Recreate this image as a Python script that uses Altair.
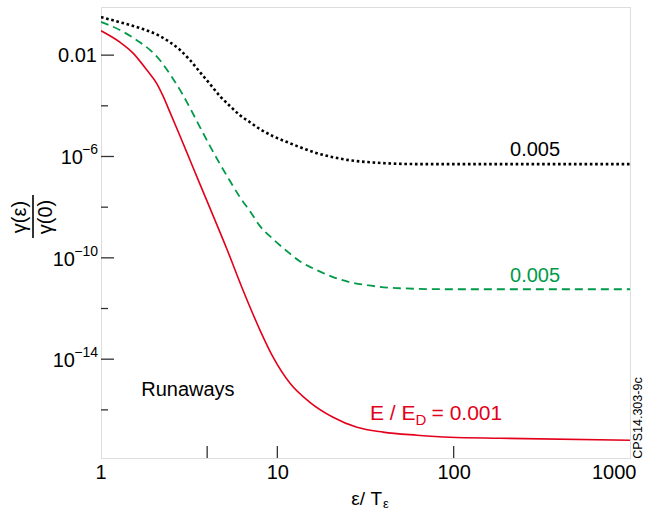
import altair as alt
import pandas as pd

# ---- data (x = eps/T_eps, y given as log10 of gamma ratio) ----
black_x = [1, 1.28, 1.66, 2.16, 2.46, 2.81, 3.20, 3.64, 4.15, 4.73, 5.39, 6.14, 7.0, 7.98,
           9.46, 11.35, 13.4, 16.8, 20.7, 25.8, 32.3, 39.8, 62, 183, 1000]
black_exp = [-0.50, -0.70, -0.93, -1.25, -1.49, -1.80, -2.20, -2.67, -3.14, -3.62, -4.01, -4.37,
             -4.65, -4.92, -5.20, -5.43, -5.63, -5.87, -6.03, -6.15, -6.22, -6.26, -6.30, -6.30, -6.30]

green_x = [1, 1.28, 1.66, 1.90, 2.16, 2.46, 2.81, 3.20, 3.64, 4.15, 4.73, 5.39, 6.14, 7.0,
           7.98, 9.46, 11.35, 13.4, 16.8, 20.7, 25.8, 32.3, 49.6, 95, 1000]
green_exp = [-0.69, -1.01, -1.49, -1.80, -2.20, -2.75, -3.38, -4.09, -4.84, -5.59, -6.30, -6.97,
             -7.61, -8.16, -8.75, -9.26, -9.74, -10.13, -10.49, -10.76, -10.96, -11.08, -11.20,
             -11.24, -11.24]

red_x = [1, 1.28, 1.52, 1.82, 2.08, 2.25, 2.46, 2.81, 3.20, 3.64, 4.15, 5.18, 6.39, 7.98,
         9.46, 11.8, 15.3, 20.7, 28.3, 39.8, 62, 95, 183, 1000]
red_exp = [-1.04, -1.49, -1.92, -2.59, -3.14, -3.62, -4.25, -5.20, -6.15, -7.09, -8.04, -9.66,
           -11.28, -12.86, -13.92, -14.95, -15.70, -16.29, -16.69, -16.88, -17.00, -17.08, -17.12, -17.20]

x_label_values = [1, 10, 100, 1000]
x_minor_ticks = [4]
y_label_values = [1e-2, 1e-6, 1e-10, 1e-14]
y_minor_ticks = [1e-4, 1e-8, 1e-12, 1e-16]
y_plain_label = ["0.01"]
y_pow_short = [1e-6]
y_pow_short_sup = ["\u22126"]
y_pow_long = [1e-10, 1e-14]
y_pow_long_sup = ["\u221210", "\u221214"]

W, H = 529, 451
FONT = "Liberation Sans"
RED = "#e3001b"
GREEN = "#009a48"


def frame(xs, es):
    return pd.DataFrame({"x": xs, "y": [10 ** e for e in es]})


xscale = alt.Scale(type="log", domain=[1, 1000], nice=False)
yscale = alt.Scale(type="log", domain=[10 ** -17.9, 10 ** -0.1], nice=False)

xaxis = alt.Axis(values=x_label_values, ticks=False, domain=False, grid=False, title=None,
                 labelFontSize=20, labelFont=FONT, labelColor="black", labelPadding=4,
                 labelFlush=True, labelFlushOffset=6, labelOverlap=False,
                 labelExpr="'' + round(datum.value)")
yaxis = alt.Axis(values=y_label_values, ticks=False, domain=False, grid=False, title=None,
                 labels=False)

X = alt.X("x:Q", scale=xscale, axis=xaxis)
Y = alt.Y("y:Q", scale=yscale, axis=yaxis)

black = alt.Chart(frame(black_x, black_exp)).mark_line(
    color="black", strokeDash=[2.6, 2.7], strokeWidth=2.6, interpolate="monotone", clip=True
).encode(x=X, y=Y)
green = alt.Chart(frame(green_x, green_exp)).mark_line(
    color=GREEN, strokeDash=[8, 5], strokeWidth=1.8, interpolate="monotone", clip=True
).encode(x=X, y=Y)
red = alt.Chart(frame(red_x, red_exp)).mark_line(
    color=RED, strokeWidth=1.6, interpolate="monotone", clip=True
).encode(x=X, y=Y)

# inward ticks
ymaj = alt.Chart(pd.DataFrame({"y": y_label_values})).mark_rule(color="#333", strokeWidth=1.3).encode(
    y=Y, x=alt.value(0), x2=alt.value(13))
ymin = alt.Chart(pd.DataFrame({"y": y_minor_ticks})).mark_rule(color="#333", strokeWidth=1.3).encode(
    y=Y, x=alt.value(0), x2=alt.value(7))
xt = alt.Chart(pd.DataFrame({"x": x_minor_ticks + x_label_values[1:3]})).mark_rule(color="#333", strokeWidth=1.3).encode(
    x=X, y=alt.value(H), y2=alt.value(H - 12))


# y tick labels with real superscripts
def ylab(values, texts, xpos, size, dy, align="right"):
    return alt.Chart(pd.DataFrame({"y": values, "t": texts})).mark_text(
        font=FONT, fontSize=size, color="black", align=align, baseline="middle", dy=dy
    ).encode(y=Y, x=alt.value(xpos), text="t:N")


yl_plain = ylab(y_label_values[:1], y_plain_label, -4, 20, 1)
yl_ten_s = ylab(y_pow_short, ["10"], -18, 20, 2)
yl_sup_s = ylab(y_pow_short, y_pow_short_sup, -3, 14, -6)
yl_ten_l = ylab(y_pow_long, ["10"] * len(y_pow_long), -26, 20, 2)
yl_sup_l = ylab(y_pow_long, y_pow_long_sup, -3, 14, -6)

one = pd.DataFrame({"a": [0]})


def label(text, x, y, color="black", size=20, align="center", baseline="middle", dx=0, dy=0):
    return alt.Chart(pd.DataFrame({"x": [x], "y": [y]})).mark_text(
        text=text, font=FONT, fontSize=size, color=color, align=align, baseline=baseline, dx=dx, dy=dy
    ).encode(x=X, y=Y)


lab_black = label("0.005", 289.6, 10 ** -5.75)
lab_green = label("0.005", 289.6, 10 ** -10.72, color=GREEN)
lab_run = label("Runaways", 3.11, 10 ** -15.23)
lab_red1 = label("E / E", 60.8, 10 ** -16.17, color=RED, size=21, align="right")
lab_red2 = label("D", 60.8, 10 ** -16.17, color=RED, size=15, align="left", dy=6)
lab_red3 = label("= 0.001", 60.8, 10 ** -16.17, color=RED, size=21, align="left", dx=16)


def ptext(text, x, y, size=20, angle=0, align="center", baseline="middle"):
    return alt.Chart(one).mark_text(
        text=text, font=FONT, fontSize=size, color="black", angle=angle, align=align, baseline=baseline
    ).encode(x=alt.value(x), y=alt.value(y))


ynum = ptext("γ(ε)", -81, 210, angle=270)
yden = ptext("γ(0)", -55, 210, angle=270)
yline = alt.Chart(one).mark_rule(color="black", strokeWidth=1.6).encode(
    x=alt.value(-68), y=alt.value(188), y2=alt.value(231))
xtitle = ptext("ε/ T", 281, 492, size=19, align="right")
xsub = ptext("ε", 282, 497, size=13, align="left")
cps = ptext("CPS14.303-9c", 537, 411, size=12.5, angle=270)

chart = alt.layer(
    black, green, red, ymaj, ymin, xt,
    yl_plain, yl_ten_s, yl_sup_s, yl_ten_l, yl_sup_l,
    lab_black, lab_green, lab_run, lab_red1, lab_red2, lab_red3,
    ynum, yden, yline, xtitle, xsub, cps
).properties(
    width=W, height=H, autosize="none",
    padding={"left": 101, "top": 7, "right": 15, "bottom": 57}
).configure_view(stroke="#222", strokeWidth=1.5).configure(background="white")

chart.save("out.html", embed_options={"renderer": "svg", "actions": False})
